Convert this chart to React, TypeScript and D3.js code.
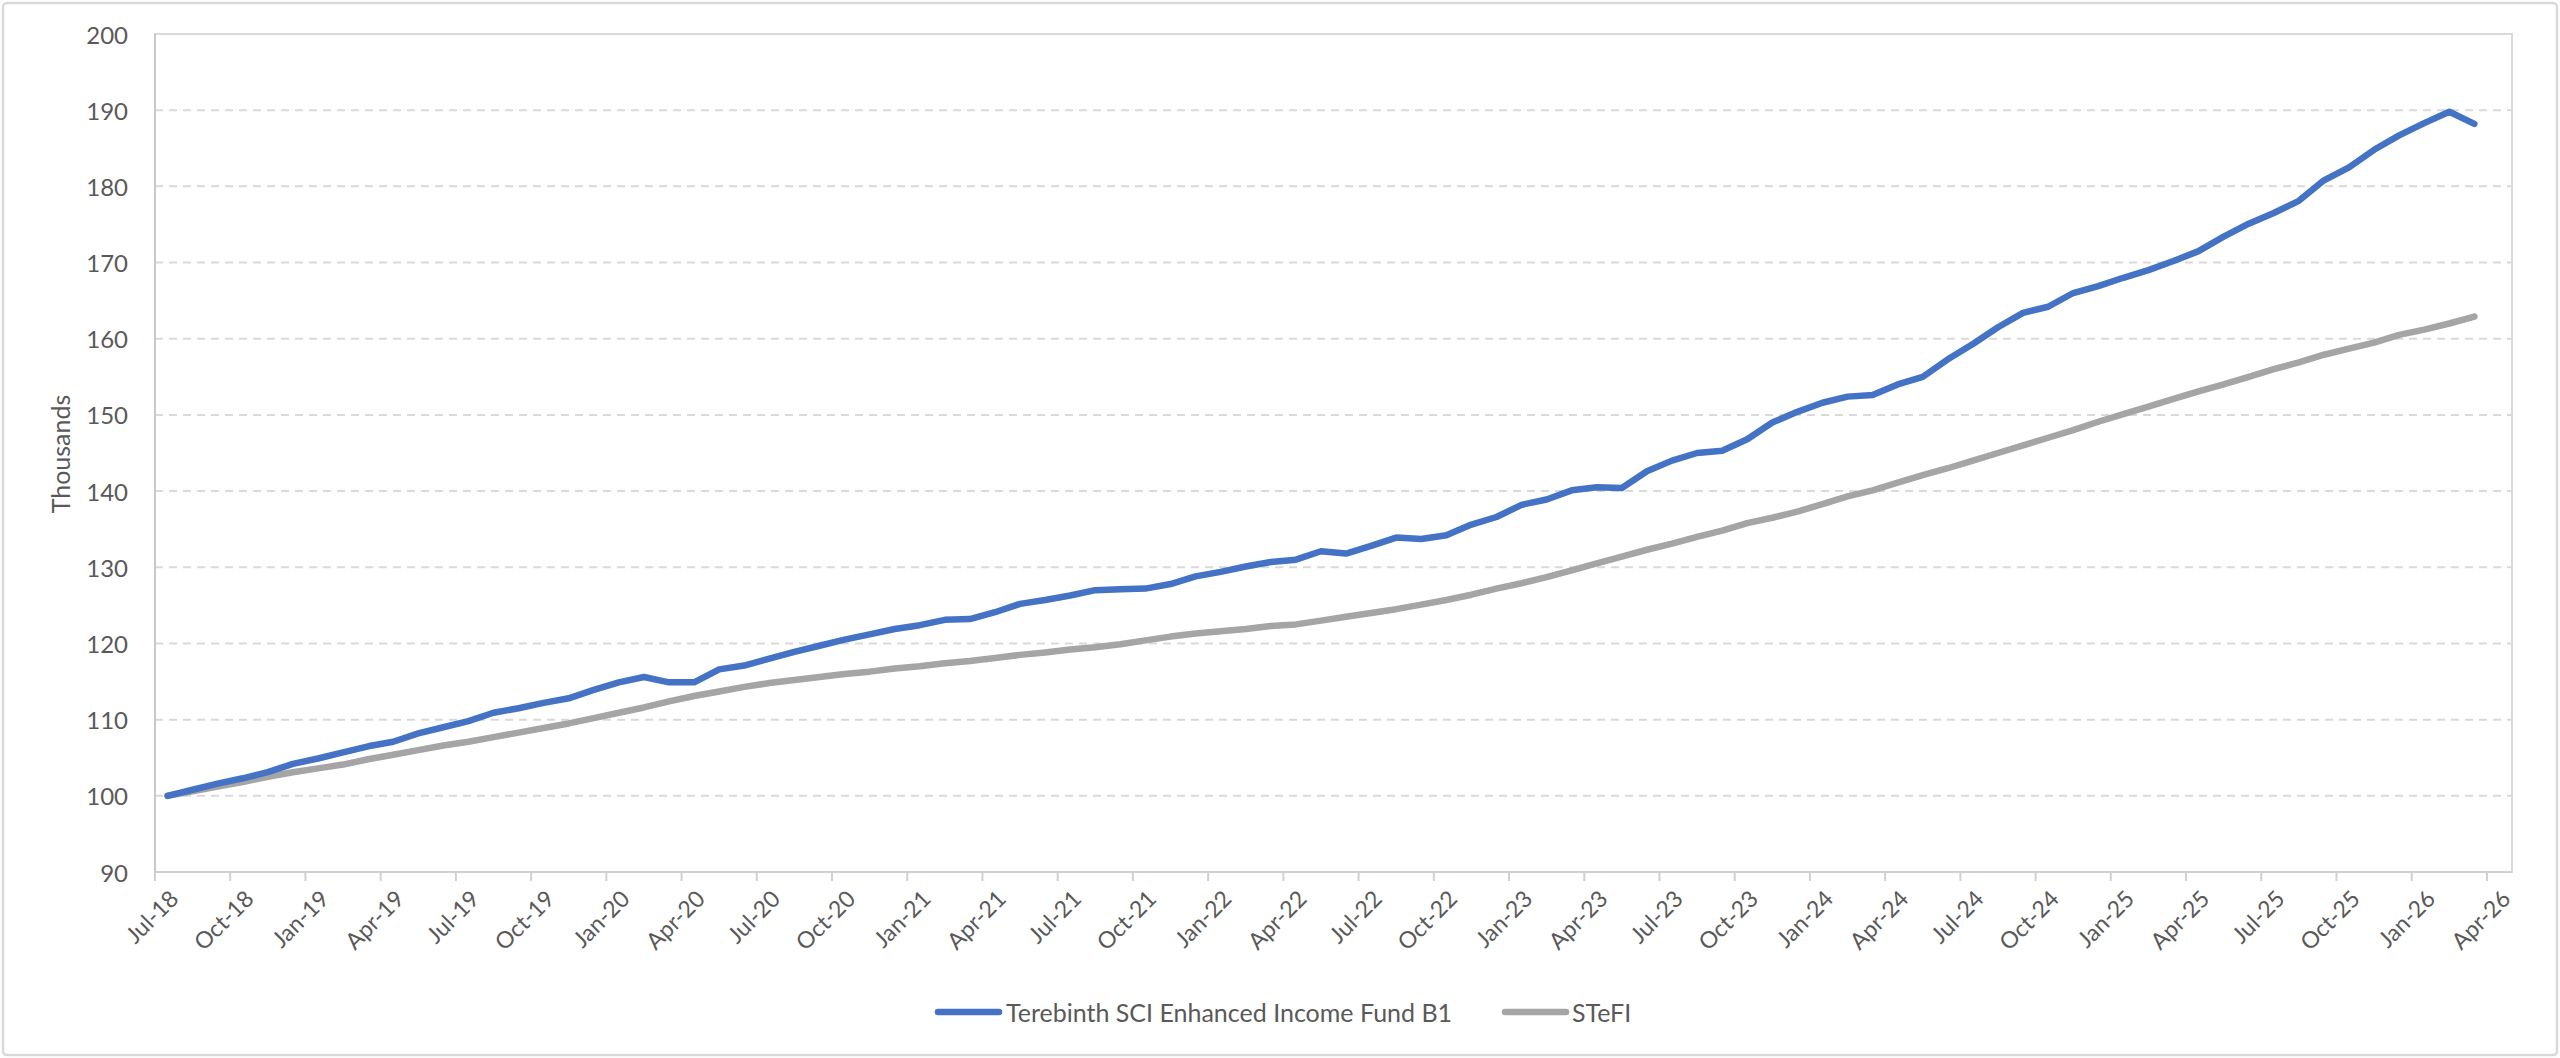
import React from "react";
import * as d3 from "d3";

const categories: string[] = d3
  .timeMonth.range(new Date(2018, 6, 1), new Date(2026, 4, 1))
  .map((d) => d3.timeFormat("%b-%y")(d));

const fundValues: number[] = [
  100.0, 100.8, 101.6, 102.3, 103.1, 104.2, 104.9, 105.7, 106.5, 107.1,
  108.2, 109.0, 109.8, 110.9, 111.5, 112.2, 112.8, 113.9, 114.9, 115.6,
  114.9, 114.9, 116.6, 117.1, 118.0, 118.9, 119.7, 120.5, 121.2, 121.9,
  122.4, 123.1, 123.2, 124.1, 125.2, 125.7, 126.3, 127.0, 127.1, 127.2,
  127.8, 128.8, 129.4, 130.1, 130.7, 131.0, 132.1, 131.8, 132.8, 133.9,
  133.7, 134.2, 135.6, 136.6, 138.2, 138.9, 140.1, 140.5, 140.4, 142.6,
  144.0, 145.0, 145.3, 146.8, 149.0, 150.4, 151.6, 152.4, 152.6, 154.0,
  155.0, 157.3, 159.3, 161.5, 163.4, 164.2, 166.0, 166.9, 168.0, 169.0,
  170.2, 171.5, 173.4, 175.1, 176.5, 178.1, 180.8, 182.5, 184.8, 186.7,
  188.3, 189.8, 188.2,
];

const stefiValues: number[] = [
  100.0, 100.6, 101.2, 101.8, 102.5, 103.1, 103.6, 104.1, 104.8, 105.4,
  106.0, 106.6, 107.1, 107.7, 108.3, 108.9, 109.5, 110.2, 110.9, 111.6,
  112.4, 113.1, 113.7, 114.3, 114.8, 115.2, 115.6, 116.0, 116.3, 116.7,
  117.0, 117.4, 117.7, 118.1, 118.5, 118.8, 119.2, 119.5, 119.9, 120.4,
  120.9, 121.3, 121.6, 121.9, 122.3, 122.5, 123.0, 123.5, 124.0, 124.5,
  125.1, 125.7, 126.4, 127.2, 127.9, 128.7, 129.6, 130.5, 131.4, 132.3,
  133.1, 134.0, 134.8, 135.8, 136.5, 137.3, 138.3, 139.3, 140.1, 141.1,
  142.1, 143.0, 144.0, 145.0, 146.0, 147.0, 148.0, 149.1, 150.1, 151.1,
  152.1, 153.1, 154.0, 155.0, 156.0, 156.9, 157.9, 158.7, 159.5, 160.5,
  161.2, 162.0, 162.9,
];

const yTicks: number[] = [90, 100, 110, 120, 130, 140, 150, 160, 170, 180, 190, 200];

const xTickLabels: string[] = [
  "Jul-18", "Oct-18", "Jan-19", "Apr-19", "Jul-19", "Oct-19", "Jan-20", "Apr-20",
  "Jul-20", "Oct-20", "Jan-21", "Apr-21", "Jul-21", "Oct-21", "Jan-22", "Apr-22",
  "Jul-22", "Oct-22", "Jan-23", "Apr-23", "Jul-23", "Oct-23", "Jan-24", "Apr-24",
  "Jul-24", "Oct-24", "Jan-25", "Apr-25", "Jul-25", "Oct-25", "Jan-26", "Apr-26",
];

const seriesNames: string[] = ["Terebinth SCI Enhanced Income Fund B1", "STeFI"];
const seriesColors: string[] = ["#4472C4", "#A5A5A5"];
const yTitle = "Thousands";

const W = 2560;
const H = 1058;
const left = 155;
const right = 2512;
const top = 34;
const bottom = 872;
const FONT = "Lato, 'Open Sans', sans-serif";
const TEXT = "#595959";

export default function App() {
  const x = d3.scaleBand<string>().domain(categories).range([left, right]).padding(0);
  const bw = x.bandwidth();
  const y = d3.scaleLinear().domain([90, 200]).range([bottom, top]);
  const cx = (i: number) => (x(categories[i]) as number) + bw / 2;

  const line = d3
    .line<number>()
    .x((_, i) => cx(i))
    .y((v) => y(v));

  const series = [fundValues, stefiValues];

  const tickIdx = xTickLabels.map((lab) => categories.indexOf(lab));

  const legendY = 1012;
  const legendItems = [
    { x1: 938, x2: 999, tx: 1006 },
    { x1: 1505, x2: 1566, tx: 1572 },
  ];

  return (
    <svg
      width={W}
      height={H}
      style={{ position: "absolute", left: 0, top: 0, background: "#fff" }}
      fontFamily={FONT}
    >
      <rect x={3} y={3} width={W - 6} height={H - 6} rx={4} fill="#fff" stroke="#d9d9d9" strokeWidth={2.5} />

      {/* gridlines */}
      {yTicks
        .filter((t) => t > 90 && t < 200)
        .map((t) => (
          <line
            key={"g" + t}
            x1={left}
            x2={right}
            y1={y(t)}
            y2={y(t)}
            stroke="#d9d9d9"
            strokeWidth={2}
            strokeDasharray="8,6"
          />
        ))}

      {/* plot area border */}
      <rect x={left} y={top} width={right - left} height={bottom - top} fill="none" stroke="#d9d9d9" strokeWidth={2} />
      <line x1={left} x2={left} y1={top} y2={bottom} stroke="#c8c8c8" strokeWidth={2} />
      <line x1={left} x2={right} y1={bottom} y2={bottom} stroke="#d0d0d0" strokeWidth={2} />

      {/* x ticks */}
      {tickIdx.map((i) => (
        <line
          key={"t" + i}
          x1={x(categories[i]) as number}
          x2={x(categories[i]) as number}
          y1={bottom}
          y2={bottom + 9}
          stroke="#d0d0d0"
          strokeWidth={2}
        />
      ))}

      {/* x labels */}
      {tickIdx.map((i, k) => {
        const px = cx(i) + 6;
        const py = bottom + 22;
        return (
          <text
            key={"xl" + i}
            x={px}
            y={py}
            transform={`rotate(-45 ${px} ${py})`}
            textAnchor="end"
            dominantBaseline="central"
            fontSize={23}
            fill={TEXT}
          >
            {xTickLabels[k]}
          </text>
        );
      })}

      {/* y labels */}
      {yTicks.map((t) => (
        <text
          key={"yl" + t}
          x={128}
          y={y(t)}
          textAnchor="end"
          dominantBaseline="central"
          fontSize={24}
          fill={TEXT}
        >
          {t}
        </text>
      ))}

      <text
        x={60}
        y={454}
        transform="rotate(-90 60 454)"
        textAnchor="middle"
        dominantBaseline="central"
        fontSize={25}
        fill={TEXT}
      >
        {yTitle}
      </text>

      {/* series: draw STeFI first then fund on top */}
      {[1, 0].map((s) => (
        <path
          key={"s" + s}
          d={line(series[s]) || ""}
          fill="none"
          stroke={seriesColors[s]}
          strokeWidth={6.5}
          strokeLinejoin="round"
          strokeLinecap="round"
        />
      ))}

      {/* legend */}
      {legendItems.map((it, s) => (
        <g key={"lg" + s}>
          <line
            x1={it.x1}
            x2={it.x2}
            y1={legendY}
            y2={legendY}
            stroke={seriesColors[s]}
            strokeWidth={6.5}
            strokeLinecap="round"
          />
          <text x={it.tx} y={legendY} dominantBaseline="central" fontSize={25} fill={TEXT}>
            {seriesNames[s]}
          </text>
        </g>
      ))}
    </svg>
  );
}
